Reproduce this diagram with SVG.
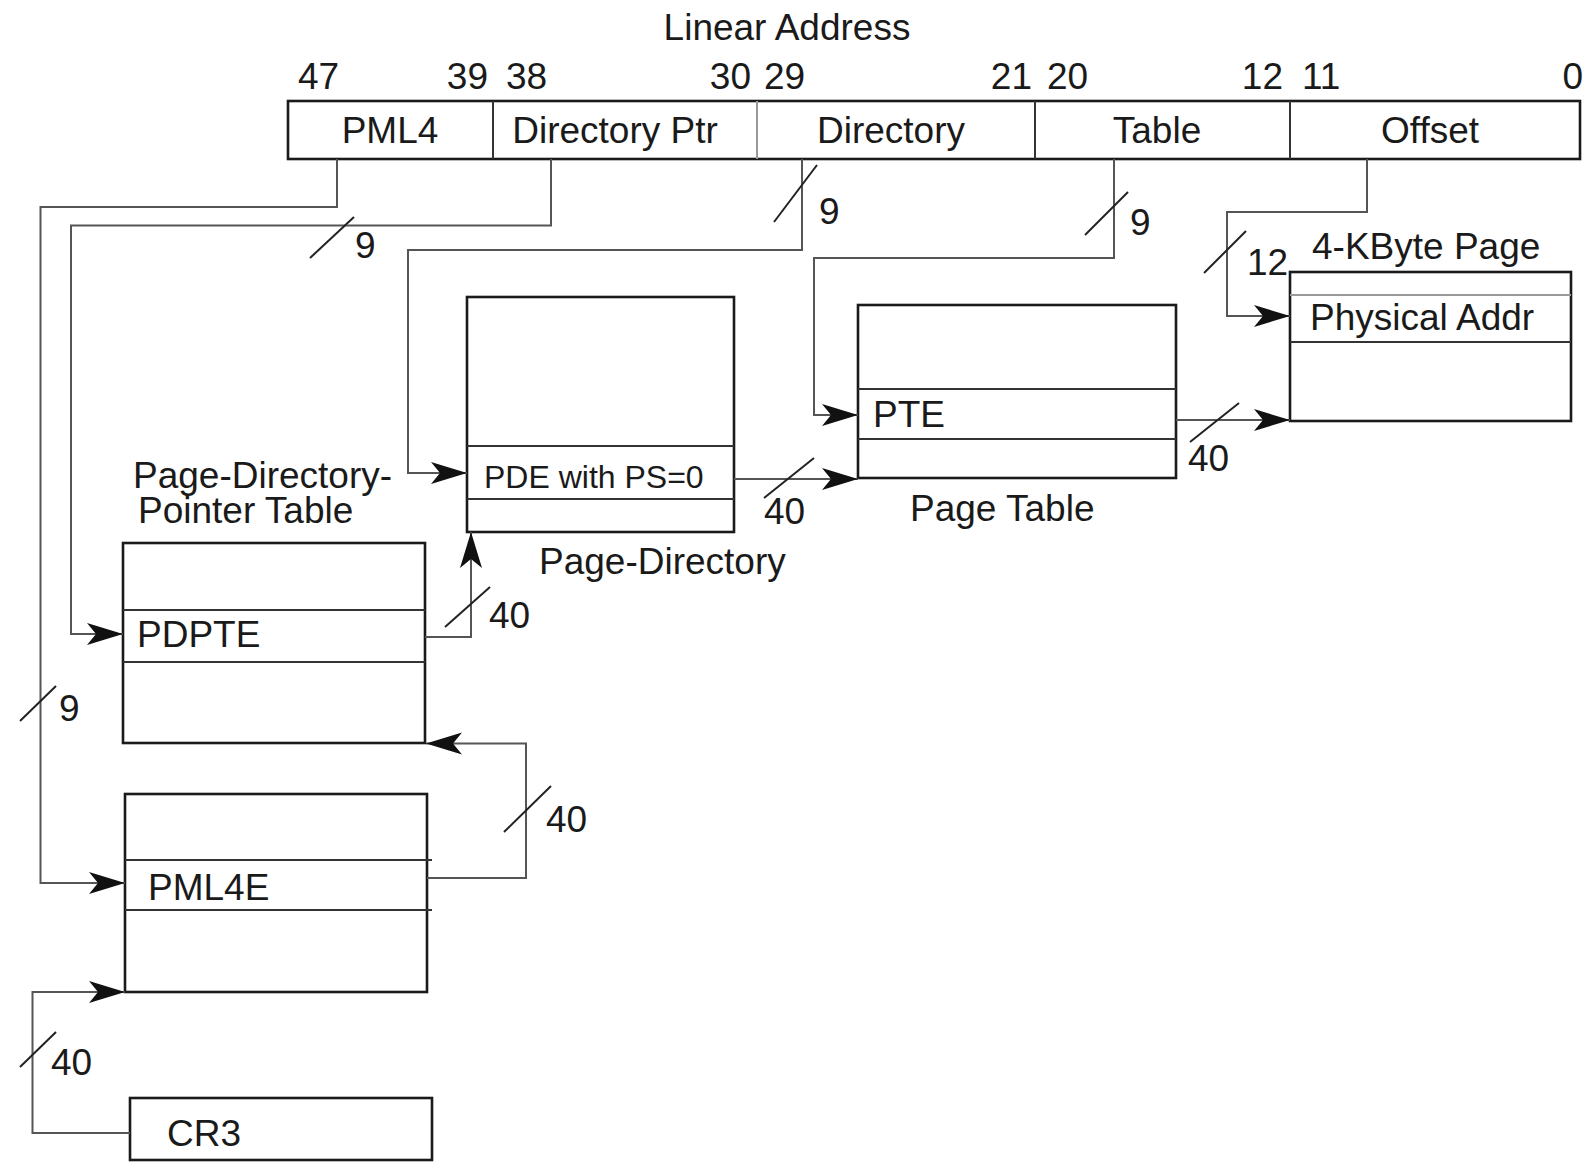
<svg xmlns="http://www.w3.org/2000/svg" width="1586" height="1163" viewBox="0 0 1586 1163">
<style>
text{font-family:"Liberation Sans",Arial,sans-serif;fill:#1a1a1a;font-size:37px}
.small{font-size:32px}
.box{fill:#fff;stroke:#1a1a1a;stroke-width:2.6}
.row{stroke:#333;stroke-width:2;fill:none}
.rowg{stroke:#999;stroke-width:2;fill:none}
.conn{stroke:#555;stroke-width:2;fill:none}
.slash{stroke:#222;stroke-width:2;fill:none}
</style>
<defs>
<marker id="arr" markerUnits="userSpaceOnUse" markerWidth="40" markerHeight="26" refX="36" refY="13" orient="auto">
<path d="M0,2 L36,13 L0,24 L9,13 Z" fill="#111"/>
</marker>
</defs>
<rect width="1586" height="1163" fill="#fff"/>

<g id="linear-address">
<text x="787" y="40" text-anchor="middle">Linear Address</text>
<text x="298" y="89">47</text>
<text x="488" y="89" text-anchor="end">39</text>
<text x="506" y="89">38</text>
<text x="751" y="89" text-anchor="end">30</text>
<text x="764" y="89">29</text>
<text x="1032" y="89" text-anchor="end">21</text>
<text x="1047" y="89">20</text>
<text x="1283" y="89" text-anchor="end">12</text>
<text x="1302" y="89">11</text>
<text x="1583" y="89" text-anchor="end">0</text>
<rect class="box" x="288" y="101" width="1292" height="58"/>
<line class="row" x1="493" y1="101" x2="493" y2="159"/>
<line class="rowg" x1="757" y1="101" x2="757" y2="159"/>
<line class="row" x1="1035" y1="101" x2="1035" y2="159"/>
<line class="row" x1="1290" y1="101" x2="1290" y2="159"/>
<text x="390" y="143" text-anchor="middle">PML4</text>
<text x="615" y="143" text-anchor="middle">Directory Ptr</text>
<text x="891" y="143" text-anchor="middle">Directory</text>
<text x="1157" y="143" text-anchor="middle">Table</text>
<text x="1430" y="143" text-anchor="middle">Offset</text>
</g>

<g id="page-directory">
<rect class="box" x="467" y="297" width="267" height="235"/>
<line class="row" x1="467" y1="446" x2="734" y2="446"/>
<line class="row" x1="467" y1="499" x2="734" y2="499"/>
<text class="small" x="484" y="488">PDE with PS=0</text>
<text x="539" y="574">Page-Directory</text>
</g>

<g id="page-directory-pointer-table">
<text x="133" y="488">Page-Directory-</text>
<text x="138" y="523">Pointer Table</text>
<rect class="box" x="123" y="543" width="302" height="200"/>
<line class="row" x1="123" y1="610" x2="425" y2="610"/>
<line class="row" x1="123" y1="662" x2="425" y2="662"/>
<text x="137" y="647">PDPTE</text>
</g>

<g id="pml4-table">
<rect class="box" x="125" y="794" width="302" height="198"/>
<line class="row" x1="125" y1="860" x2="432" y2="860"/>
<line class="row" x1="125" y1="910" x2="432" y2="910"/>
<text x="148" y="900">PML4E</text>
</g>

<g id="cr3">
<rect class="box" x="130" y="1098" width="302" height="62"/>
<text x="167" y="1146">CR3</text>
</g>

<g id="page-table">
<rect class="box" x="858" y="305" width="318" height="173"/>
<line class="row" x1="858" y1="389" x2="1176" y2="389"/>
<line class="row" x1="858" y1="439" x2="1176" y2="439"/>
<text x="873" y="427">PTE</text>
<text x="910" y="521">Page Table</text>
</g>

<g id="page-4k">
<text x="1312" y="259">4-KByte Page</text>
<rect class="box" x="1290" y="272" width="281" height="149"/>
<line class="rowg" x1="1290" y1="295" x2="1571" y2="295"/>
<line class="row" x1="1290" y1="342" x2="1571" y2="342"/>
<text x="1310" y="330">Physical Addr</text>
</g>

<g id="connectors">
<path class="conn" d="M337,159 V207 H40.5 V883 H125" marker-end="url(#arr)"/>
<path class="conn" d="M551,159 V225.5 H71 V634 H123" marker-end="url(#arr)"/>
<path class="conn" d="M802,159 V250 H408 V473 H467" marker-end="url(#arr)"/>
<path class="conn" d="M1114,159 V258 H814 V415 H858" marker-end="url(#arr)"/>
<path class="conn" d="M1367,159 V212 H1227 V316 H1290" marker-end="url(#arr)"/>
<path class="conn" d="M734,479 H858" marker-end="url(#arr)"/>
<path class="conn" d="M1176,420 H1290" marker-end="url(#arr)"/>
<path class="conn" d="M425,637 H471 V532" marker-end="url(#arr)"/>
<path class="conn" d="M427,878 H526 V743.5 H426" marker-end="url(#arr)"/>
<path class="conn" d="M130,1133 H32.5 V992 H125" marker-end="url(#arr)"/>

<line class="slash" x1="310" y1="258" x2="354" y2="217"/>
<line class="slash" x1="774" y1="222" x2="817" y2="165"/>
<line class="slash" x1="1085" y1="235" x2="1128" y2="192"/>
<line class="slash" x1="1204" y1="273" x2="1246" y2="231"/>
<line class="slash" x1="1190" y1="442" x2="1239" y2="403"/>
<line class="slash" x1="764" y1="498" x2="814" y2="458"/>
<line class="slash" x1="445" y1="627" x2="490" y2="587"/>
<line class="slash" x1="20" y1="721" x2="56" y2="686"/>
<line class="slash" x1="504" y1="832" x2="551" y2="786"/>
<line class="slash" x1="20" y1="1067" x2="56" y2="1032"/>

<text x="355" y="258">9</text>
<text x="819" y="224">9</text>
<text x="1130" y="235">9</text>
<text x="1247" y="275">12</text>
<text x="1188" y="471">40</text>
<text x="764" y="524">40</text>
<text x="489" y="628">40</text>
<text x="59" y="721">9</text>
<text x="546" y="832">40</text>
<text x="51" y="1075">40</text>
</g>
</svg>
